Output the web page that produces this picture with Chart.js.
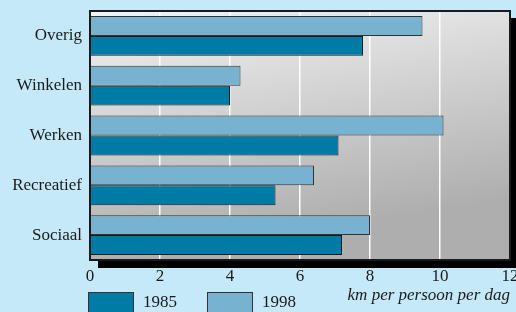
<!DOCTYPE html>
<html><head><meta charset="utf-8">
<script src="https://cdn.jsdelivr.net/npm/chart.js@4/dist/chart.umd.min.js"></script>
<style>html,body{margin:0;padding:0;background:#c6e9fa;}#w{width:516px;height:312px;}</style>
</head><body><div id="w"><canvas id="c" width="516" height="312"></canvas></div>
<script>
const categories = ["Overig", "Winkelen", "Werken", "Recreatief", "Sociaal"];
const values1998 = [9.5, 4.3, 10.1, 6.4, 8.0];
const values1985 = [7.8, 4.0, 7.1, 5.3, 7.2];
const xTicks = [0, 2, 4, 6, 8, 10, 12];
const axisTitle = "km per persoon per dag";
const FONT = "'Liberation Serif', 'DejaVu Serif', serif";
const C1985 = "#007ba5", C1998 = "#77b3d0";

const frame = {
  id: 'frame',
  beforeDraw(chart) {
    const {ctx, chartArea: a} = chart;
    ctx.save();
    ctx.fillStyle = "#c6e9fa";
    ctx.fillRect(0, 0, chart.width, chart.height);
    ctx.fillStyle = "#000";
    ctx.fillRect(a.left + 8, a.bottom, a.right - a.left, 8);
    ctx.fillRect(a.right, a.top + 7, 8, a.bottom - a.top);
    const g = ctx.createLinearGradient(a.left, a.top, a.left + 40, a.bottom);
    g.addColorStop(0, "#f3f3f3");
    g.addColorStop(1, "#aeaeae");
    ctx.fillStyle = g;
    ctx.fillRect(a.left, a.top, a.right - a.left, a.bottom - a.top);
    ctx.restore();
  },
  afterDatasetsDraw(chart) {
    const {ctx, chartArea: a} = chart;
    ctx.save();
    ctx.strokeStyle = "#1a1a1a";
    ctx.lineWidth = 2;
    ctx.strokeRect(a.left, a.top, a.right - a.left, a.bottom - a.top);
    const items = [{t: "1985", c: C1985, x: 88}, {t: "1998", c: C1998, x: 207}];
    ctx.font = "17px " + FONT;
    ctx.textBaseline = "middle";
    ctx.textAlign = "left";
    items.forEach(it => {
      ctx.fillStyle = it.c;
      ctx.fillRect(it.x, 292, 46, 24);
      ctx.strokeStyle = "#333";
      ctx.lineWidth = 1;
      ctx.strokeRect(it.x + 0.5, 292.5, 45, 24);
      ctx.fillStyle = "#1a1a1a";
      ctx.fillText(it.t, it.x + 55, 303);
    });
    ctx.font = "italic 17px " + FONT;
    ctx.textAlign = "right";
    ctx.fillText(axisTitle, a.right, 296);
    ctx.restore();
  }
};

new Chart(document.getElementById('c'), {
  type: 'bar',
  data: {
    labels: categories,
    datasets: [
      {label: "1998", data: values1998, backgroundColor: C1998, borderColor: "#333", borderWidth: 1, categoryPercentage: 0.8, barPercentage: 1},
      {label: "1985", data: values1985, backgroundColor: C1985, borderColor: "#1a1a1a", borderWidth: 1, categoryPercentage: 0.8, barPercentage: 1}
    ]
  },
  options: {
    indexAxis: 'y',
    responsive: false,
    animation: false,
    layout: {padding: {top: 11, right: 6, left: 0, bottom: 0}},
    plugins: {legend: {display: false}, tooltip: {enabled: false}},
    scales: {
      x: {
        min: 0, max: 12,
        afterBuildTicks(s) { s.ticks = xTicks.map(v => ({value: v})); },
        afterFit(s) { s.height = 52; s.paddingLeft = 0; s.paddingRight = 0; },
        grid: {color: "#ffffff", lineWidth: 1.5, drawTicks: false},
        border: {display: false},
        ticks: {font: {family: FONT, size: 17}, color: "#1a1a1a", padding: 6, maxRotation: 0}
      },
      y: {
        afterFit(s) { s.width = 90; s.paddingTop = 0; s.paddingBottom = 0; },
        grid: {display: false, drawTicks: false},
        border: {display: false},
        ticks: {font: {family: FONT, size: 17}, color: "#1a1a1a", padding: 8}
      }
    }
  },
  plugins: [frame]
});
</script></body></html>
